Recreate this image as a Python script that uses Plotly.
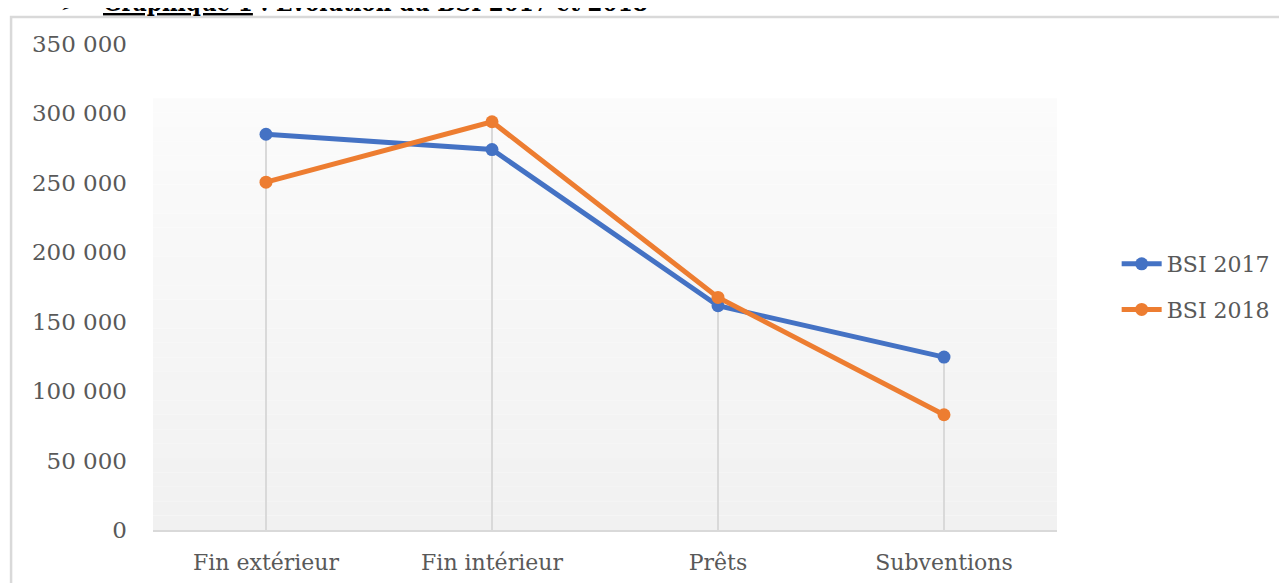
import plotly.graph_objects as go

categories = ["Fin extérieur", "Fin intérieur", "Prêts", "Subventions"]
bsi_2017 = [285000, 274000, 161500, 124500]
bsi_2018 = [250500, 294000, 167500, 83000]
y_tickvals = [0, 50000, 100000, 150000, 200000, 250000, 300000, 350000]
y_ticktext = ["0", "50 000", "100 000", "150 000", "200 000", "250 000", "300 000", "350 000"]

BLUE = "#4472C4"
ORANGE = "#ED7D31"
GRID = "#D9D9D9"
TXT = "#595959"
FONT = "DejaVu Serif"

fig = go.Figure()

# drop lines from axis up to the higher point of each category
dx, dy = [], []
for c, a, b in zip(categories, bsi_2017, bsi_2018):
    dx += [c, c, None]
    dy += [0, max(a, b), None]
fig.add_trace(go.Scatter(x=dx, y=dy, mode="lines", line=dict(color=GRID, width=2),
                         showlegend=False, hoverinfo="skip"))

fig.add_trace(go.Scatter(x=categories, y=bsi_2017, name="BSI 2017", mode="lines+markers",
                         legendgroup="a",
                         line=dict(color=BLUE, width=5), marker=dict(size=13, color=BLUE)))
fig.add_trace(go.Scatter(x=categories, y=bsi_2018, name="BSI 2018", mode="lines+markers",
                         legendgroup="b",
                         line=dict(color=ORANGE, width=5), marker=dict(size=13, color=ORANGE)))

# gradient plot-area background (approximated by stacked bands)
grad_top = 311000
n = 30
shapes = []
for i in range(n):
    y0 = grad_top * i / n
    y1 = grad_top * (i + 1) / n
    t = i / (n - 1)
    v = int(round(241 + (251 - 241) * t))
    shapes.append(dict(type="rect", xref="paper", yref="y", x0=0, x1=1, y0=y0, y1=y1,
                       fillcolor=f"rgb({v},{v},{v})", line=dict(width=0), layer="below"))
# page frame
shapes.append(dict(type="rect", xref="paper", yref="paper", x0=-0.157, x1=1.5, y0=-0.5, y1=1.0555,
                   line=dict(color=GRID, width=2.5), fillcolor="rgba(0,0,0,0)", layer="below"))

TITLE_Y = 1.0505
fig.update_layout(
    width=1279, height=575,
    margin=dict(l=145, r=230, t=36, b=53, autoexpand=False),
    paper_bgcolor="white", plot_bgcolor="white",
    font=dict(family=FONT, size=22, color=TXT),
    shapes=shapes,
    showlegend=True,
    legend=dict(x=1.066, y=0.5, xanchor="left", yanchor="middle",
                font=dict(family=FONT, size=22, color=TXT), tracegroupgap=14,
                itemwidth=40, bgcolor="rgba(0,0,0,0)"),
    xaxis=dict(type="category", range=[-0.5, 3.5], showgrid=False, zeroline=False,
               showline=True, linecolor=GRID, linewidth=2, ticks="", ticklabelstandoff=12,
               tickfont=dict(family=FONT, size=22, color=TXT)),
    yaxis=dict(range=[0, 350000], tickvals=y_tickvals, ticktext=y_ticktext, showgrid=False,
               zeroline=False, showline=False, ticks="", ticklabelstandoff=25,
               tickfont=dict(family=FONT, size=23, color=TXT)),
    annotations=[
        dict(xref="paper", yref="paper", x=(58 - 153) / 904, y=TITLE_Y, xanchor="left", yanchor="bottom",
             showarrow=False, text="➢",
             font=dict(family="DejaVu Sans", size=20, color="black")),
        dict(xref="paper", yref="paper", x=(101 - 153) / 904, y=TITLE_Y, xanchor="left", yanchor="bottom",
             showarrow=False,
             text="<b><span style='text-decoration:underline'>Graphique 1</span> : Evolution du BSI 2017 et 2018</b>",
             font=dict(family="DejaVu Serif Condensed", size=24, color="black")),
    ],
)

fig.write_html("out.html")
